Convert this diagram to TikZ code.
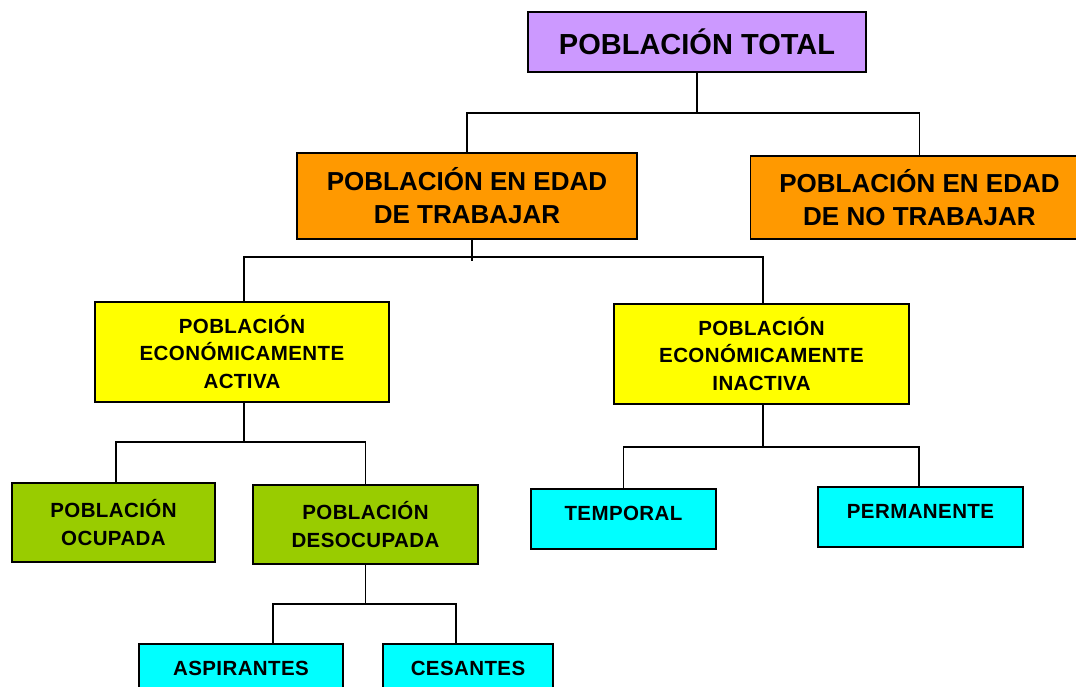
\documentclass[tikz,border=0pt]{standalone}
\usepackage{fontspec}
\setmainfont{Liberation Sans}
\usetikzlibrary{positioning}

\definecolor{lila}{HTML}{CC99FF}
\definecolor{naranja}{HTML}{FF9900}
\definecolor{amarillo}{HTML}{FFFF00}
\definecolor{verde}{HTML}{99CC00}
\definecolor{celeste}{HTML}{00FFFF}

\begin{document}
\begin{tikzpicture}[x=1pt,y=-1pt,
		caja/.style={draw=black,line width=1.8pt,rectangle,inner sep=0pt,align=center},
		linea/.style={line width=1.8pt},
		letra1/.style={font=\bfseries\fontsize{29}{34}\selectfont},
		letra2/.style={font=\bfseries\fontsize{26}{33}\selectfont},
		letra3/.style={font=\bfseries\fontsize{20.5}{27.5}\selectfont\addfontfeature{LetterSpace=2}},
		hoja/.style={caja,fill=celeste,letra3,text height=31pt,text depth=29pt}]
		\clip (0,0) rectangle (1076,686);
		
		\node[caja,fill=lila,letra1,minimum width=338pt,minimum height=60pt] (total) at (697,42) {POBLACIÓN TOTAL};
		
		\node[caja,fill=naranja,letra2,minimum width=340pt,minimum height=86pt] (edad) at (467,196) {POBLACIÓN EN EDAD\\DE TRABAJAR};
		\node[caja,fill=naranja,letra2,minimum width=338pt,minimum height=83pt] (noedad) at (919.5,197.5) {POBLACIÓN EN EDAD\\DE NO TRABAJAR};
		
		\node[caja,fill=amarillo,letra3,minimum width=294pt,minimum height=100pt] (pea) at (242,352) {POBLACIÓN\\ECONÓMICAMENTE\\ACTIVA};
		\node[caja,fill=amarillo,letra3,minimum width=295pt,minimum height=100pt] (pei) at (761.5,354) {POBLACIÓN\\ECONÓMICAMENTE\\INACTIVA};
		
		\node[caja,fill=verde,letra3,minimum width=203pt,minimum height=79pt] (ocupada) at (113.5,522.5) {POBLACIÓN\\OCUPADA};
		\node[caja,fill=verde,letra3,minimum width=225pt,minimum height=79pt] (desocupada) at (365.5,524.5) {POBLACIÓN\\DESOCUPADA};
		
		\node[hoja,minimum width=185pt] (temporal) at (623.5,519) {TEMPORAL};
		\node[hoja,minimum width=205pt] (permanente) at (920.5,517) {PERMANENTE};
		\node[hoja,minimum width=204pt] (aspirantes) at (241,674) {ASPIRANTES};
		\node[hoja,minimum width=170pt] (cesantes) at (468,674) {CESANTES};
		
		% ramas
		\draw[linea] (total.south) -- ++(0,40) coordinate (j1);
		\draw[linea] (edad.north) |- (j1) -| (noedad.north);
		
		\draw[linea] ([xshift=5pt]edad.south) -- ++(0,21);
		\draw[linea] ([xshift=2pt]pea.north) -- ++(0,-44) -| ([xshift=1.5pt]pei.north);
		
		\draw[linea] ([xshift=2pt]pea.south) -- ++(0,39) coordinate (j3);
		\draw[linea] ([xshift=2.5pt]ocupada.north) |- (j3) -| (desocupada.north);
		
		\draw[linea] ([xshift=1.5pt]pei.south) -- ++(0,42) coordinate (j4);
		\draw[linea] (temporal.north) |- (j4) -| ([xshift=-1.5pt]permanente.north);
		
		\draw[linea] (desocupada.south) -- ++(0,39) coordinate (j5);
		\draw[linea] ([xshift=32pt]aspirantes.north) |- (j5) -| ([xshift=-12pt]cesantes.north);
		
	\end{tikzpicture}
\end{document}
